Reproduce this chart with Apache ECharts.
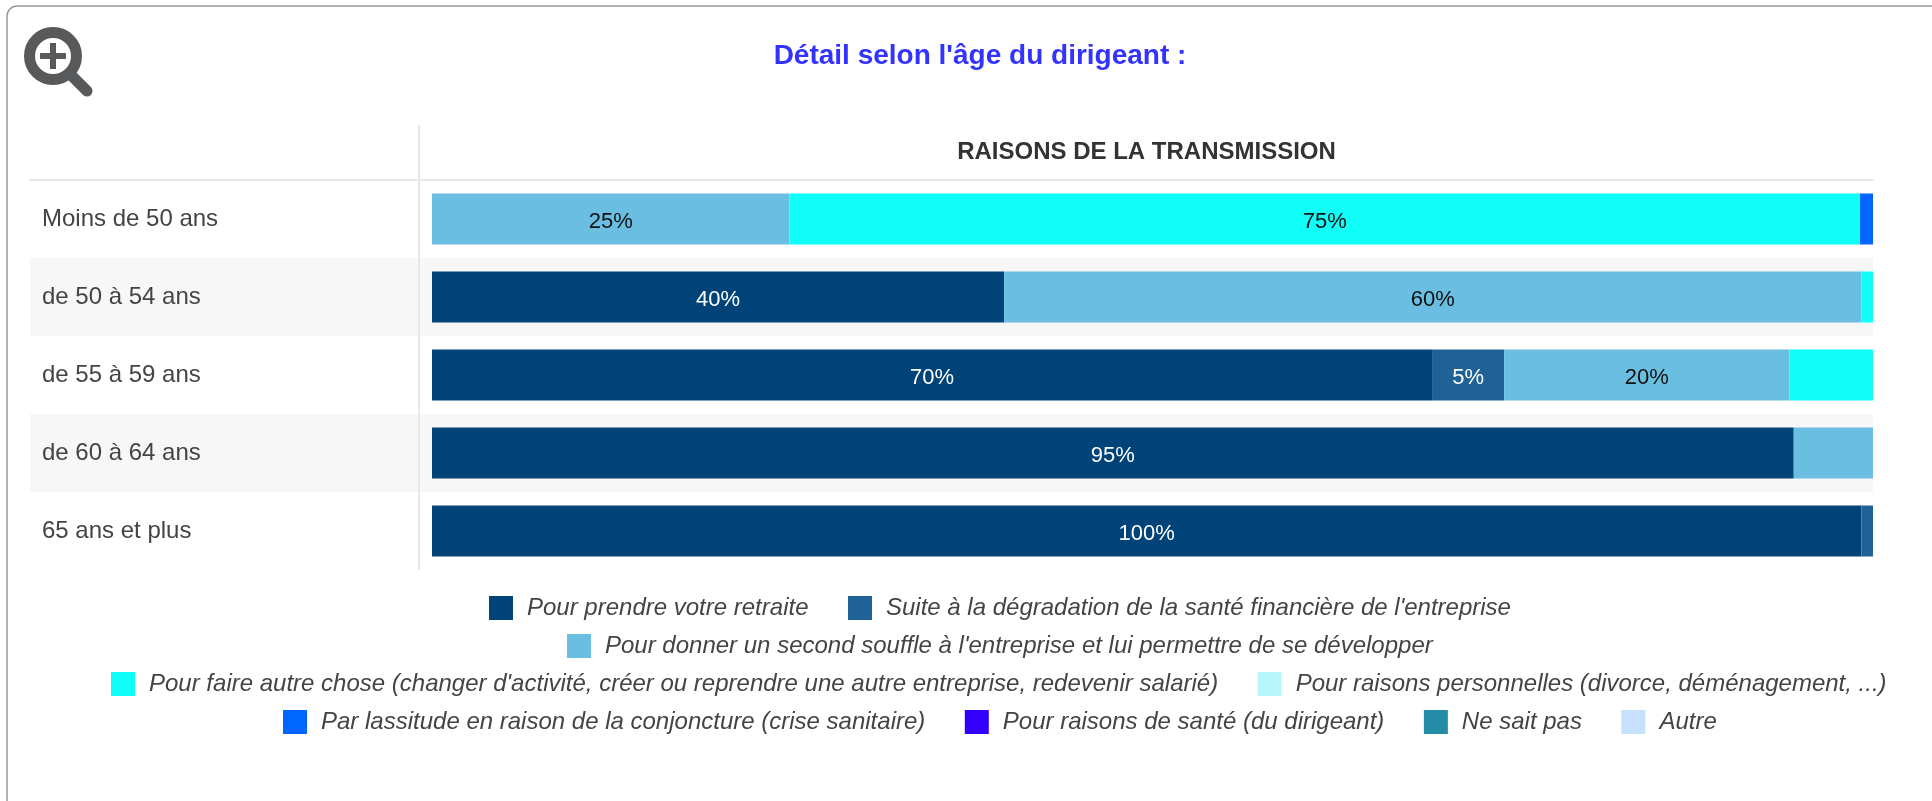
<!DOCTYPE html>
<html><head><meta charset="utf-8">
<style>html,body{margin:0;padding:0;background:#fff}#c{width:1932px;height:801px}</style>
<script src="https://cdn.jsdelivr.net/npm/echarts@6/dist/echarts.min.js"></script>
</head><body><div id="c"></div>
<script>
const categories = ['Moins de 50 ans','de 50 à 54 ans','de 55 à 59 ans','de 60 à 64 ans','65 ans et plus'];
const retraite   = [0, 39.7, 69.4, 94.5, 99.2];
const degradation= [0, 0, 5.0, 0, 0.8];
const souffle    = [24.8, 59.5, 19.8, 5.5, 0];
const autreChose = [74.3, 0.8, 5.8, 0, 0];
const personnelles=[0,0,0,0,0];
const lassitude  = [0.9,0,0,0,0];
const sante      = [0,0,0,0,0];
const nsp        = [0,0,0,0,0];
const autre      = [0,0,0,0,0];
const labelRetraite = ['', '40%', '70%', '95%', '100%'];
const labelDegradation = ['', '', '5%', '', ''];
const labelSouffle = ['25%', '60%', '20%', '', ''];
const labelAutreChose = ['75%', '', '', '', ''];
const names = [
 'Pour prendre votre retraite',
 "Suite à la dégradation de la santé financière de l'entreprise",
 "Pour donner un second souffle à l'entreprise et lui permettre de se développer",
 "Pour faire autre chose (changer d'activité, créer ou reprendre une autre entreprise, redevenir salarié)",
 'Pour raisons personnelles (divorce, déménagement, ...)',
 'Par lassitude en raison de la conjoncture (crise sanitaire)',
 'Pour raisons de santé (du dirigeant)',
 'Ne sait pas',
 'Autre'];
const colors = ['#004379','#1f6298','#6abee2','#0ffff8','#b7f7fc','#0066ff','#3300ff','#238ca6','#c5e1fb'];
const values = [retraite,degradation,souffle,autreChose,personnelles,lassitude,sante,nsp,autre];
const labels = [labelRetraite,labelDegradation,labelSouffle,labelAutreChose];
const labelColors = ['#fff','#fff','#111','#111'];
const legendRows = [[0,1],[2],[3,4],[5,6,7,8]];
const legendLeft = [489,567,111,283];
const legendTop = [596,634,672,710];
const F = '"Liberation Sans", Arial, sans-serif';
const chart = echarts.init(document.getElementById('c'));
chart.setOption({
 animation:false,
 textStyle:{fontFamily:F},
 title:{text:"Détail selon l'âge du dirigeant :",left:975,textAlign:'center',top:37,textStyle:{color:'#3333ff',fontSize:28,fontWeight:'bold',fontFamily:F}},
 legend:legendRows.map((r,i)=>({data:r.map(k=>names[k]),left:legendLeft[i],top:legendTop[i],orient:'horizontal',
   itemWidth:24,itemHeight:24,itemGap:39.5,icon:'rect',selectedMode:false,padding:0,
   textStyle:{fontSize:24,fontStyle:'italic',color:'#444',fontFamily:F,padding:[1,0,0,9]}})),
 grid:[
  {left:30,right:59,top:180,height:390,containLabel:false},
  {left:432,right:59,top:180,height:390}
 ],
 xAxis:[
  {gridIndex:0,type:'value',min:0,max:100,position:'top',axisLine:{show:true,onZero:false,lineStyle:{color:'#e8e8e8',width:2}},axisTick:{show:false},axisLabel:{show:false},splitLine:{show:false},
   name:'RAISONS DE LA TRANSMISSION',nameLocation:'middle',nameGap:16,nameTextStyle:{fontSize:24,fontWeight:'bold',color:'#333',fontFamily:F,padding:[0,0,0,390]}},
  {gridIndex:1,type:'value',min:0,max:100,show:false}
 ],
 yAxis:[
  {gridIndex:0,type:'category',inverse:true,data:categories,axisLine:{show:false},axisTick:{show:false},
   axisLabel:{inside:true,margin:12,fontSize:24,color:'#444',fontFamily:F,verticalAlign:'middle',align:'left',padding:[2,0,0,0]},
   splitLine:{show:false},splitArea:{show:true,interval:0,areaStyle:{color:['#ffffff','#f7f7f7']}}},
  {gridIndex:1,type:'category',inverse:true,data:categories,show:false}
 ],
 graphic:[
  {type:'rect',z:-10,shape:{x:7,y:6,width:2000,height:900,r:10},style:{fill:'#fff',stroke:'#999',lineWidth:1.5}},
  {type:'line',z:10,shape:{x1:419,y1:125,x2:419,y2:570},style:{stroke:'#e8e8e8',lineWidth:2}},
  {type:'circle',shape:{cx:53,cy:56,r:23.5},style:{fill:'none',stroke:'#58595b',lineWidth:11}},
  {type:'line',shape:{x1:72,y1:76,x2:87,y2:91},style:{stroke:'#58595b',lineWidth:11,lineCap:'round'}},
  {type:'line',shape:{x1:40,y1:56,x2:66,y2:56},style:{stroke:'#58595b',lineWidth:6}},
  {type:'line',shape:{x1:53,y1:43,x2:53,y2:69},style:{stroke:'#58595b',lineWidth:6}}
 ],
 series:names.map((n,i)=>({
  name:n,type:'bar',stack:'t',xAxisIndex:1,yAxisIndex:1,barWidth:51,
  itemStyle:{color:colors[i]},
  data:values[i],
  label:{show:!!labels[i],position:'inside',offset:[0,3],fontSize:22,fontFamily:F,color:labelColors[i]||'#111',
    formatter:p=>labels[i]?labels[i][p.dataIndex]:''}
 }))
});
</script></body></html>
